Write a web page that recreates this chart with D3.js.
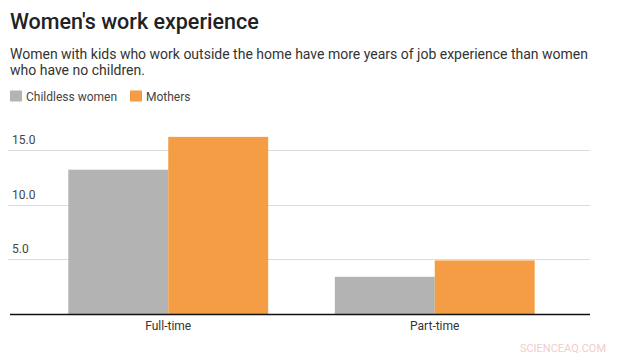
<!DOCTYPE html>
<html>
<head>
<meta charset="utf-8">
<script src="https://cdn.jsdelivr.net/npm/d3@7"></script>
<style>
  html, body { margin: 0; padding: 0; background: #fff; }
  svg { display: block; font-family: Roboto, "Noto Sans", sans-serif; }
</style>
</head>
<body>
<svg id="chart" width="621" height="357"></svg>
<script>
const categories = ["Full-time", "Part-time"];
const seriesNames = ["Childless women", "Mothers"];
const childlessValues = [13.2, 3.4];
const motherValues = [16.2, 4.9];
const yTicks = [5, 10, 15];
const seriesColors = ["#b3b3b3", "#f49d45"];

const svg = d3.select("#chart");

// Title & subtitle
svg.append("text").attr("x", 10).attr("y", 29)
  .attr("font-size", 21.5).attr("font-weight", 500).attr("fill", "#222").text("Women's work experience");
svg.append("text").attr("x", 10).attr("y", 58.5)
  .attr("font-size", 14).attr("fill", "#333")
  .text("Women with kids who work outside the home have more years of job experience than women");
svg.append("text").attr("x", 10).attr("y", 74.5)
  .attr("font-size", 14).attr("fill", "#333")
  .text("who have no children.");

// Legend
const legendX = [10, 130];
seriesNames.forEach((name, i) => {
  svg.append("rect").attr("x", legendX[i]).attr("y", 90.5).attr("width", 12).attr("height", 11)
    .attr("fill", seriesColors[i]);
  svg.append("text").attr("x", legendX[i] + 16).attr("y", 100.5)
    .attr("font-size", 12).attr("fill", "#444").text(name);
});

// Scales
const x0 = d3.scaleBand().domain(categories).range([35, 568]).paddingInner(0.25).paddingOuter(0.125);
const x1 = d3.scaleBand().domain(seriesNames).range([0, x0.bandwidth()]);
const y = d3.scaleLinear().domain([0, 15]).range([314, 150]);

// Gridlines
const grid = svg.append("g");
grid.selectAll("line").data(yTicks).join("line")
  .attr("x1", 8).attr("x2", 590)
  .attr("y1", d => Math.round(y(d)) + 0.5).attr("y2", d => Math.round(y(d)) + 0.5)
  .attr("stroke", "#dcdcdc").attr("stroke-width", 1);
grid.selectAll("text").data(yTicks).join("text")
  .attr("x", 12).attr("y", d => y(d) - 6)
  .attr("font-size", 12).attr("fill", "#444")
  .text(d => d3.format(".1f")(d));

// Bars
const data = categories.map((c, i) => ({ cat: c, vals: [childlessValues[i], motherValues[i]] }));
const groups = svg.append("g").selectAll("g").data(data).join("g")
  .attr("transform", d => `translate(${x0(d.cat)},0)`);
groups.selectAll("rect").data(d => d.vals.map((v, i) => ({ name: seriesNames[i], v, i })))
  .join("rect")
  .attr("x", d => x1(d.name))
  .attr("width", x1.bandwidth())
  .attr("y", d => y(d.v))
  .attr("height", d => y(0) - y(d.v))
  .attr("fill", d => seriesColors[d.i]);

// Baseline axis
svg.append("line").attr("x1", 10).attr("x2", 590).attr("y1", 314.5).attr("y2", 314.5)
  .attr("stroke", "#111").attr("stroke-width", 1.5);

// Category labels
svg.append("g").selectAll("text").data(categories).join("text")
  .attr("x", d => x0(d) + x0.bandwidth() / 2).attr("y", 330)
  .attr("text-anchor", "middle").attr("font-size", 12).attr("fill", "#333")
  .text(d => d);

// Watermark
svg.append("text").attr("x", 606).attr("y", 352).attr("text-anchor", "end")
  .attr("font-size", 11).attr("fill", "#f2cccc").text("SCIENCEAQ.COM");
</script>
</body>
</html>
